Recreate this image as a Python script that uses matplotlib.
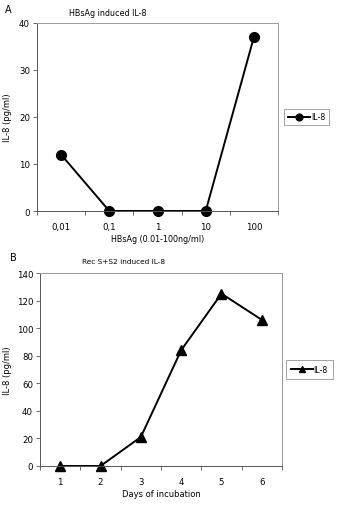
import matplotlib.pyplot as plt
import numpy as np

# panel A data
doses = ["0,01", "0,1", "1", "10", "100"]
il8_dose = [12, 0, 0, 0, 37]

# panel B data
days = ["1", "2", "3", "4", "5", "6"]
il8_days = [0, 0, 21, 84, 125, 106]

W, H = 338, 506
fig = plt.figure(figsize=(W / 100, H / 100), dpi=100)
plt.rcParams["font.family"] = "DejaVu Sans"
fs = 6.2


def px_axes(x0, y0, x1, y1):
    # pixel box (top-left origin) -> figure fraction
    return fig.add_axes([x0 / W, 1 - y1 / H, (x1 - x0) / W, (y1 - y0) / H])


def style(ax, n):
    for s in ["top", "right"]:
        ax.spines[s].set_color("#999999")
    for s in ["left", "bottom"]:
        ax.spines[s].set_color("#555555")
    for s in ax.spines.values():
        s.set_linewidth(0.7)
    ax.set_xlim(-0.5, n - 0.5)
    # ticks at category boundaries, labels at centers
    ax.set_xticks(np.arange(n + 1) - 0.5)
    ax.set_xticklabels([])
    ax.set_xticks(np.arange(n), minor=True)
    ax.tick_params(axis="x", which="major", length=3, width=0.6, color="#555555")
    ax.tick_params(axis="x", which="minor", length=0, labelsize=fs, pad=8)
    ax.tick_params(axis="y", length=3, width=0.6, color="#555555", labelsize=fs, pad=2)


# A
ax1 = px_axes(37, 24, 278, 212)
ax1.plot(range(len(doses)), il8_dose, color="black", lw=1.4, marker="o", ms=7, label="IL-8", clip_on=False)
style(ax1, len(doses))
ax1.set_xticklabels(doses, minor=True)
ax1.set_ylim(0, 40)
ax1.set_yticks([0, 10, 20, 30, 40])
ax1.set_ylabel("IL-8 (pg/ml)", fontsize=6, labelpad=5)
ax1.set_xlabel("HBsAg (0.01-100ng/ml)", fontsize=5.8, labelpad=2)
leg1 = ax1.legend(loc="center left", bbox_to_anchor=(1.01, 0.5), fontsize=fs - 0.5, frameon=True,
                  fancybox=False, handlelength=2.8, borderpad=0.5, handletextpad=0.1, markerscale=0.7)
leg1.get_frame().set_edgecolor("#777777")
leg1.get_frame().set_linewidth(0.6)
fig.text(5 / W, 1 - 10 / H, "A", fontsize=7, va="center", ha="left")
fig.text(108 / W, 1 - 13 / H, "HBsAg induced IL-8", fontsize=5.8, va="center", ha="center")

# B
ax2 = px_axes(40, 274, 282, 467)
ax2.plot(range(len(days)), il8_days, color="black", lw=1.4, marker="^", ms=7, label="IL-8", clip_on=False)
style(ax2, len(days))
ax2.set_xticklabels(days, minor=True)
ax2.set_ylim(0, 140)
ax2.set_yticks(range(0, 141, 20))
ax2.set_ylabel("IL-8 (pg/ml)", fontsize=6, labelpad=3)
ax2.set_xlabel("Days of incubation", fontsize=6, labelpad=2)
leg2 = ax2.legend(loc="center left", bbox_to_anchor=(1.0, 0.5), fontsize=fs - 0.5, frameon=True,
                  fancybox=False, handlelength=2.8, borderpad=0.6, handletextpad=0.1, markerscale=0.7)
leg2.get_frame().set_edgecolor("#777777")
leg2.get_frame().set_linewidth(0.6)
fig.text(10 / W, 1 - 258 / H, "B", fontsize=7, va="center", ha="left")
fig.text(124 / W, 1 - 262 / H, "Rec S+S2 induced IL-8", fontsize=5.3, va="center", ha="center")

fig.savefig("out.png", dpi=100)
